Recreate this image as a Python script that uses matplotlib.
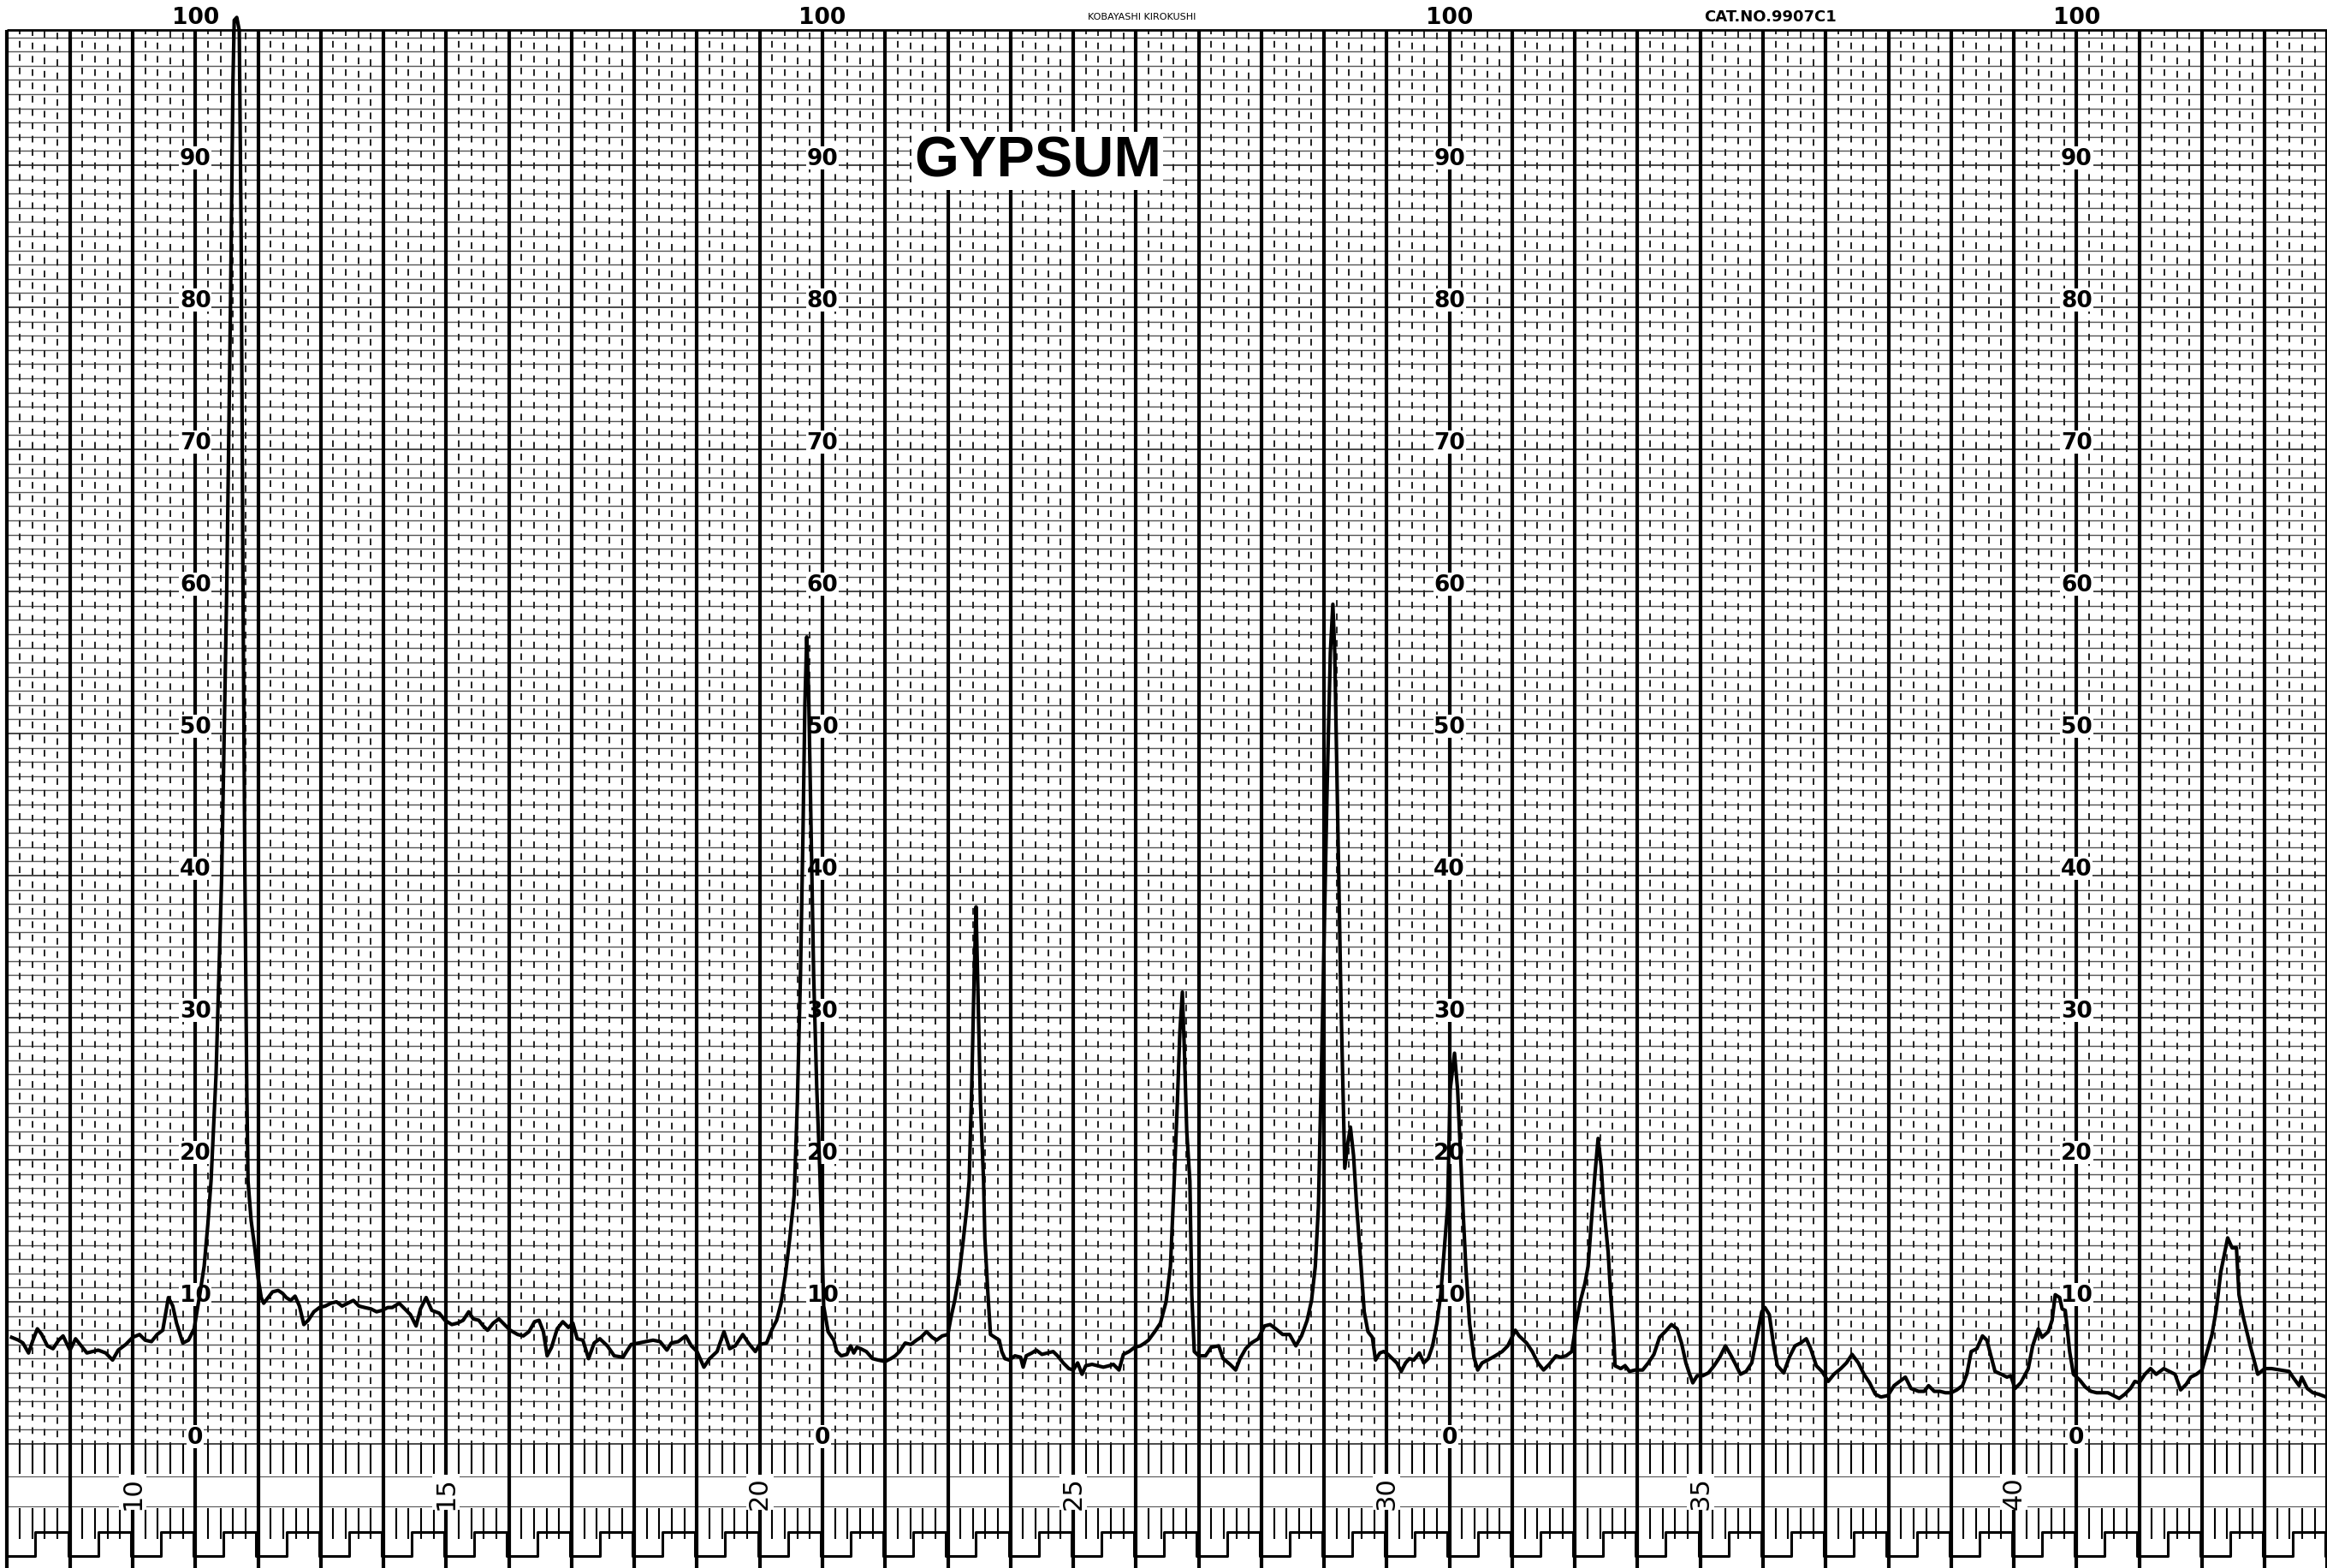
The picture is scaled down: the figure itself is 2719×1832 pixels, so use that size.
import matplotlib
matplotlib.use('Agg')
from matplotlib import pyplot as plt

# trace: 2-theta (deg) and pen position (chart units 0-100)
two_theta = [8.07, 8.18, 8.25, 8.34, 8.41, 8.48, 8.55, 8.64, 8.73, 8.82, 8.89, 9.00, 9.09, 9.18,
             9.27, 9.36, 9.45, 9.57, 9.68, 9.77, 9.89, 10.00, 10.11, 10.20, 10.30, 10.39, 10.48,
             10.57, 10.64, 10.70, 10.80, 10.89, 10.98, 11.07, 11.14, 11.20, 11.25, 11.33, 11.42,
             11.50, 11.56, 11.60, 11.62, 11.66, 11.70, 11.73, 11.76, 11.79, 11.82, 11.84, 11.89,
             11.95, 12.00, 12.05, 12.09, 12.16, 12.23, 12.32, 12.39, 12.45, 12.52, 12.59, 12.66,
             12.73, 12.80, 12.89, 12.98, 13.07, 13.16, 13.25, 13.34, 13.43, 13.52, 13.61, 13.70,
             13.80, 13.89, 13.98, 14.07, 14.14, 14.25, 14.34, 14.43, 14.52, 14.59, 14.68, 14.77,
             14.89, 14.98, 15.09, 15.18, 15.27, 15.36, 15.43, 15.52, 15.59, 15.66, 15.75, 15.84,
             15.93, 16.02, 16.14, 16.23, 16.32, 16.41, 16.48, 16.55, 16.61, 16.68, 16.77, 16.86,
             16.95, 17.02, 17.09, 17.18, 17.27, 17.36, 17.45, 17.57, 17.68, 17.82, 17.89, 17.95,
             18.07, 18.18, 18.30, 18.41, 18.52, 18.59, 18.70, 18.82, 18.91, 19.00, 19.11, 19.20,
             19.32, 19.43, 19.52, 19.61, 19.73, 19.82, 19.93, 20.00, 20.11, 20.20, 20.27, 20.34,
             20.41, 20.48, 20.55, 20.60, 20.65, 20.69, 20.72, 20.75, 20.78, 20.82, 20.86, 20.91,
             20.96, 21.00, 21.02, 21.09, 21.18, 21.23, 21.30, 21.39, 21.45, 21.50, 21.55, 21.61,
             21.70, 21.80, 21.89, 22.00, 22.09, 22.16, 22.23, 22.32, 22.41, 22.50, 22.57, 22.66,
             22.75, 22.82, 22.91, 23.00, 23.05, 23.11, 23.18, 23.25, 23.30, 23.34, 23.38, 23.42,
             23.45, 23.48, 23.52, 23.57, 23.59, 23.64, 23.68, 23.75, 23.82, 23.86, 23.91, 23.98,
             24.07, 24.16, 24.20, 24.25, 24.34, 24.41, 24.50, 24.59, 24.68, 24.75, 24.84, 24.93,
             25.00, 25.07, 25.14, 25.20, 25.30, 25.39, 25.48, 25.57, 25.64, 25.73, 25.80, 25.89,
             25.98, 26.07, 26.14, 26.20, 26.30, 26.39, 26.48, 26.55, 26.61, 26.66, 26.70, 26.74,
             26.77, 26.81, 26.86, 26.89, 26.93, 27.00, 27.11, 27.20, 27.32, 27.39, 27.50, 27.59,
             27.66, 27.75, 27.84, 27.95, 28.05, 28.14, 28.23, 28.34, 28.45, 28.55, 28.64, 28.73,
             28.80, 28.86, 28.91, 28.98, 29.05, 29.10, 29.14, 29.17, 29.22, 29.27, 29.33, 29.38,
             29.42, 29.47, 29.52, 29.59, 29.64, 29.70, 29.77, 29.82, 29.89, 29.95, 30.02, 30.09,
             30.16, 30.23, 30.30, 30.36, 30.43, 30.52, 30.59, 30.66, 30.73, 30.80, 30.86, 30.93,
             30.97, 31.01, 31.08, 31.13, 31.21, 31.26, 31.32, 31.39, 31.45, 31.52, 31.61, 31.73,
             31.84, 31.93, 32.05, 32.11, 32.23, 32.32, 32.41, 32.50, 32.59, 32.70, 32.77, 32.86,
             32.95, 33.02, 33.09, 33.16, 33.21, 33.28, 33.32, 33.37, 33.42, 33.46, 33.53, 33.57,
             33.62, 33.64, 33.73, 33.80, 33.87, 33.96, 34.08, 34.17, 34.26, 34.35, 34.44, 34.54,
             34.63, 34.70, 34.77, 34.83, 34.88, 34.95, 35.04, 35.13, 35.22, 35.31, 35.40, 35.48,
             35.55, 35.64, 35.73, 35.82, 35.91, 35.98, 36.03, 36.10, 36.17, 36.23, 36.33, 36.42,
             36.51, 36.60, 36.69, 36.76, 36.85, 36.94, 37.04, 37.13, 37.24, 37.33, 37.42, 37.52,
             37.61, 37.70, 37.79, 37.88, 37.99, 38.09, 38.18, 38.27, 38.36, 38.48, 38.57, 38.64,
             38.73, 38.82, 38.91, 39.00, 39.09, 39.18, 39.25, 39.32, 39.41, 39.50, 39.57, 39.64,
             39.70, 39.80, 39.89, 39.95, 40.02, 40.11, 40.23, 40.30, 40.39, 40.45, 40.55, 40.61,
             40.66, 40.73, 40.77, 40.82, 40.89, 40.95, 41.05, 41.14, 41.23, 41.32, 41.41, 41.50,
             41.59, 41.68, 41.77, 41.86, 41.93, 42.00, 42.09, 42.18, 42.27, 42.39, 42.48, 42.57,
             42.66, 42.75, 42.82, 42.91, 43.00, 43.07, 43.16, 43.23, 43.30, 43.36, 43.41, 43.48,
             43.55, 43.59, 43.66, 43.77, 43.89, 44.00, 44.11, 44.25, 44.39, 44.45, 44.55, 44.59,
             44.68, 44.77, 44.86, 44.98]
intensity = [7.5, 7.3, 7.1, 6.4, 7.3, 8.1, 7.7, 6.9, 6.7, 7.3, 7.6, 6.6, 7.4, 6.9,
             6.4, 6.5, 6.6, 6.4, 5.9, 6.6, 7.0, 7.5, 7.7, 7.3, 7.2, 7.7, 8.0,
             10.3, 9.7, 8.5, 7.1, 7.3, 8.1, 10.5, 12.5, 15.5, 18.5, 26, 40,
             60, 80, 96, 100.2, 100.4, 99.5, 85, 60, 40, 25, 18.5, 15.7,
             13.7, 11.7, 10.3, 9.9, 10.3, 10.7, 10.8, 10.6, 10.3, 10.1, 10.4, 9.7,
             8.4, 8.7, 9.3, 9.6, 9.7, 9.9, 10.0, 9.7, 9.9, 10.1, 9.7, 9.6,
             9.5, 9.3, 9.4, 9.6, 9.6, 9.9, 9.5, 9.1, 8.3, 9.5, 10.3, 9.4,
             9.2, 8.7, 8.4, 8.5, 8.7, 9.3, 8.8, 8.7, 8.3, 8.0, 8.5, 8.8,
             8.4, 8.0, 7.7, 7.6, 7.9, 8.6, 8.7, 7.9, 6.2, 6.8, 8.1, 8.6,
             8.2, 8.5, 7.4, 7.3, 6.0, 7.1, 7.4, 6.9, 6.2, 6.1, 6.6, 7.0,
             7.1, 7.2, 7.3, 7.2, 6.6, 7.1, 7.2, 7.6, 6.9, 6.5, 5.4, 6.0,
             6.5, 7.9, 6.7, 6.9, 7.7, 7.1, 6.5, 7.0, 7.1, 8.1, 8.7, 9.9,
             11.9, 14.5, 17.5, 24, 33, 43, 52, 56.8, 53, 43, 33, 25,
             19, 13, 9.7, 7.9, 7.3, 6.5, 6.2, 6.3, 6.9, 6.4, 6.8, 6.7,
             6.5, 6.0, 5.9, 5.8, 6.0, 6.2, 6.5, 7.1, 7.0, 7.3, 7.5, 7.9,
             7.5, 7.3, 7.6, 7.7, 8.9, 10.1, 11.9, 14.5, 16.5, 18.5, 25, 33,
             37.8, 32, 24, 18.5, 14.5, 10.5, 7.7, 7.5, 7.3, 6.5, 6.0, 5.9,
             6.2, 6.1, 5.4, 6.2, 6.4, 6.6, 6.3, 6.4, 6.5, 6.2, 5.7, 5.3,
             5.2, 5.7, 4.9, 5.5, 5.6, 5.5, 5.4, 5.5, 5.6, 5.2, 6.3, 6.5,
             6.8, 6.9, 7.1, 7.3, 7.9, 8.5, 10.0, 12.5, 18.5, 24, 29, 31.8,
             28, 22, 18.5, 10.5, 6.5, 6.2, 6.2, 6.8, 6.9, 6.0, 5.6, 5.2,
             6.0, 6.7, 7.1, 7.4, 8.3, 8.4, 8.1, 7.7, 7.7, 6.9, 7.6, 8.7,
             10.1, 12.5, 16.7, 31, 46.5, 55.7, 59.1, 55.7, 43.5, 31, 19.4, 21.2,
             22.3, 20.3, 16.7, 12.5, 9.3, 7.9, 7.5, 5.9, 6.4, 6.5, 6.3, 6.0,
             5.7, 5.1, 5.7, 6.0, 5.9, 6.4, 5.7, 6.0, 6.9, 8.5, 10.5, 14.5,
             16.7, 24.9, 27.5, 24.9, 17.0, 12.5, 8.5, 6.1, 5.2, 5.7, 5.9, 6.2,
             6.5, 6.9, 8.0, 7.6, 7.1, 6.5, 5.7, 5.2, 5.6, 6.2, 6.1, 6.2,
             6.5, 8.5, 10.1, 11.3, 12.5, 16.6, 19, 21.5, 19.5, 16.7, 13.5, 10.5,
             7.5, 5.5, 5.3, 5.5, 5.1, 5.2, 5.2, 5.7, 6.3, 7.5, 7.9, 8.4,
             8.1, 7.1, 5.7, 4.9, 4.3, 4.8, 4.8, 5.0, 5.5, 6.1, 6.9, 6.3,
             5.7, 4.9, 5.1, 5.7, 7.7, 9.3, 9.6, 9.1, 6.9, 5.5, 5.0, 6.1,
             6.9, 7.1, 7.4, 6.7, 5.5, 5.1, 4.4, 4.9, 5.3, 5.7, 6.3, 5.7,
             4.9, 4.3, 3.5, 3.3, 3.4, 4.1, 4.4, 4.7, 3.9, 3.7, 3.7, 4.1,
             3.7, 3.7, 3.6, 3.6, 3.8, 4.1, 4.9, 6.5, 6.7, 7.6, 7.3, 6.1,
             5.1, 4.9, 4.7, 4.8, 3.9, 4.3, 5.3, 6.9, 8.1, 7.5, 7.9, 8.7,
             10.5, 10.3, 9.5, 9.4, 6.5, 4.9, 4.5, 4.0, 3.7, 3.6, 3.6, 3.6,
             3.4, 3.2, 3.5, 3.9, 4.4, 4.3, 4.9, 5.3, 4.9, 5.3, 5.1, 4.9,
             3.8, 4.2, 4.7, 4.9, 5.2, 6.3, 7.7, 9.5, 12.1, 13.4, 14.5, 13.8,
             13.8, 10.5, 8.9, 6.9, 4.9, 5.3, 5.3, 5.2, 5.1, 4.7, 4.1, 4.7,
             3.9, 3.6, 3.5, 3.3]

scale_numbers = [10, 15, 20, 25, 30, 35, 40]
label_columns = [11, 21, 31, 41]
label_values = [0, 10, 20, 30, 40, 50, 60, 70, 80, 90]

# page geometry (chart units): paper starts at the 8 deg line, full scale near 100
paper_left = 8
paper_top = 99.5
x_min, x_max = 10 - 155 / 73.27, 10 + (2719 - 155) / 73.27
y_min, y_max = (1688 - 1833) / 16.6, 1688 / 16.6

fig = plt.figure(figsize=(27.19, 18.33), dpi=100)
ax = fig.add_axes([0, 0, 1, 1])
ax.set_xlim(x_min, x_max)
ax.set_ylim(y_min, y_max)
ax.axis('off')

# horizontal chart lines, one per unit
for v in range(0, 100):
    ax.hlines(v, paper_left, x_max, color='#3a3a3a' if v % 10 == 0 else '#555555',
              lw=1.3 if v % 10 == 0 else 1.0, zorder=1)

# vertical lines: heavy every degree, broken dashes every 0.2 deg
for d in range(paper_left, 46):
    ax.vlines(d, y_min, paper_top, color='black', lw=3.0, zorder=2)
    for k in range(1, 5):
        ax.vlines(d + 0.2 * k, 0, paper_top, color='#222222', lw=1.4,
                  linestyles=(k, (4, 4)), zorder=1)
        # scale strip ticks
        ax.vlines(d + 0.2 * k, -2.1, 0, color='black', lw=1.5, zorder=1)
        ax.vlines(d + 0.2 * k, -6.7, -4.5, color='black', lw=1.5, zorder=1)

ax.hlines([-2.3, -4.4], paper_left, x_max, color='#555555', lw=0.8, zorder=1)

# marker square wave along the bottom edge
wave_x, wave_y = [], []
for d in range(paper_left, 46):
    wave_x += [d, d + 0.45, d + 0.45, d + 0.97, d + 0.97]
    wave_y += [-7.9, -7.9, -6.2, -6.2, -7.9]
ax.plot(wave_x, wave_y, color='black', lw=2.2, zorder=3)

# top edge
ax.hlines(paper_top, paper_left, x_max, color='black', lw=2.0, zorder=2)

# recorder trace
ax.plot(two_theta, intensity, color='black', lw=3.0, solid_joinstyle='round', zorder=5)

# y values printed on the paper
for col in label_columns:
    for val in label_values:
        ax.text(col, val + 0.5, str(val), ha='center', va='center', fontsize=19,
                fontweight='bold', zorder=4,
                bbox=dict(facecolor='white', edgecolor='none', pad=0.5))
    ax.text(col, 100.4, '100', ha='center', va='center', fontsize=19,
            fontweight='bold', zorder=4)

# 2-theta numbers in the scale strip
for n in scale_numbers:
    ax.text(n, -3.4, str(n), rotation=90, ha='center', va='center', fontsize=22,
            zorder=4, bbox=dict(facecolor='white', edgecolor='none', pad=1))

ax.text(26.1, 100.5, 'KOBAYASHI KIROKUSHI', ha='center', va='center', fontsize=8, zorder=4)
ax.text(36.12, 100.5, 'CAT.NO.9907C1', ha='center', va='center', fontsize=13,
        fontweight='bold', zorder=4)
ax.text(24.43, 90.3, 'GYPSUM', ha='center', va='center', fontsize=48, fontweight='bold',
        family=['Liberation Sans Narrow', 'Liberation Sans', 'DejaVu Sans'], zorder=4,
        bbox=dict(facecolor='white', edgecolor='none', pad=2))

fig.savefig('out.png', dpi=100, facecolor='white')
